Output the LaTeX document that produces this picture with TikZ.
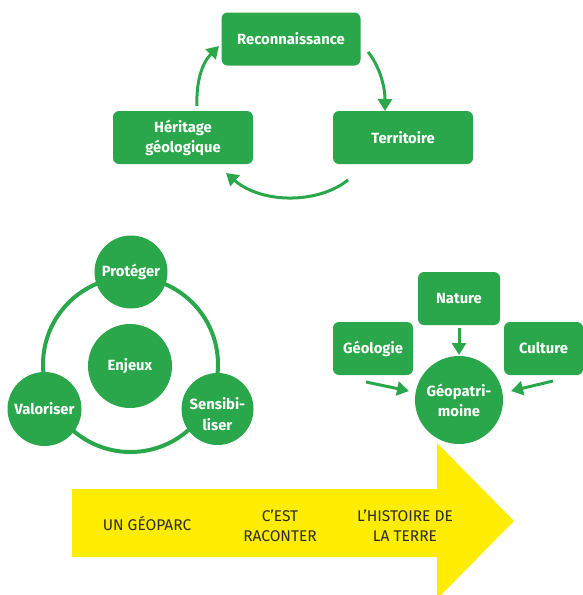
\documentclass[tikz,border=0pt]{standalone}
\usepackage{fontspec}
\setmainfont{Fira Sans}
\usetikzlibrary{arrows.meta}
\definecolor{gr}{HTML}{2AA74A}
\definecolor{yel}{HTML}{FFED00}
\definecolor{txt}{HTML}{2B2B2B}
\tikzset{
  gfont/.style={text=white, font=\bfseries\fontsize{14.8}{20}\selectfont, align=center},
  gbox/.style={gfont, fill=gr, rounded corners=6pt, inner sep=0pt},
  gcirc/.style={gfont, circle, fill=gr, inner sep=0pt},
  garrow/.style={draw=gr, line width=3pt, -{Triangle[length=12pt,width=14pt]}},
  ytext/.style={text=txt, font=\fontsize{15.5}{20}\selectfont, align=center, inner sep=0pt},
}
\begin{document}
\begin{tikzpicture}[x=1pt,y=-1pt]
\useasboundingbox (0,0) rectangle (583,595);
\clip (0,0) rectangle (583,595);
% top cycle
\node[gbox, minimum width=139pt, minimum height=53pt] (recon) at (291,39) {Reconnaissance};
\node[gbox, minimum width=140pt, minimum height=53pt] (terr) at (403,137.5) {Territoire};
\node[gbox, minimum width=140pt, minimum height=53pt] (herit) at (183,137.5) {Héritage\\géologique};
\coordinate (a1s) at (368,52);
\coordinate (a1e) at (385,111);
\coordinate (a2s) at (348,180);
\coordinate (a2e) at (226,173);
\coordinate (a3s) at (197,106);
\coordinate (a3e) at (219,46);
\draw[garrow] (a1s) .. controls (378,64) and (385,84) .. (a1e);
\draw[garrow] (a2s) .. controls (318,204) and (262,204) .. (a2e);
\draw[garrow] (a3s) .. controls (196,82) and (202,63) .. (a3e);
% enjeux
\node[circle, draw=gr, line width=4pt, minimum size=175pt, inner sep=0pt] (ring) at (130.5,364.5) {};
\node[gcirc, minimum size=84pt] (enjeux) at (130,366) {Enjeux};
\node[gcirc, minimum size=73pt] (proteger) at (131,272) {Protéger};
\node[gcirc, minimum size=74pt] (valor) at (44.5,409) {Valoriser};
\node[gcirc, minimum size=72pt] (sensib) at (217.5,409) {};
\node[gfont, inner sep=0pt, font=\bfseries\fontsize{14.8}{21.5}\selectfont] (sensibtxt) at (217.5,414) {Sensibi-\\liser};
% geopatrimoine
\node[gbox, minimum width=82pt, minimum height=53pt] (nature) at (459,298.5) {Nature};
\node[gbox, minimum width=80pt, minimum height=53pt] (geol) at (373,348.5) {Géologie};
\node[gbox, minimum width=79pt, minimum height=53pt] (cult) at (543.5,348.5) {Culture};
\node[gcirc, minimum size=88pt] (geop) at (459,400) {Géopatri-\\moine};
\coordinate (b1s) at (459,328);
\coordinate (b1e) at (459,355);
\coordinate (b2s) at (366,382);
\coordinate (b2e) at (409,391);
\coordinate (b3s) at (553,381);
\coordinate (b3e) at (511,391);
\draw[garrow] (b1s) -- (b1e);
\draw[garrow] (b2s) -- (b2e);
\draw[garrow] (b3s) -- (b3e);
% yellow arrow
\fill[yel] (72,489) -- (437,489) -- (437,443) -- (514,521) -- (437,599) -- (437,557) -- (72,557) -- cycle;
\node[ytext] (t1) at (147,524) {UN GÉOPARC};
\node[ytext] (t2) at (280,526) {C’EST\\RACONTER};
\node[ytext] (t3) at (405,526) {L’HISTOIRE DE\\LA TERRE};
\end{tikzpicture}
\end{document}
